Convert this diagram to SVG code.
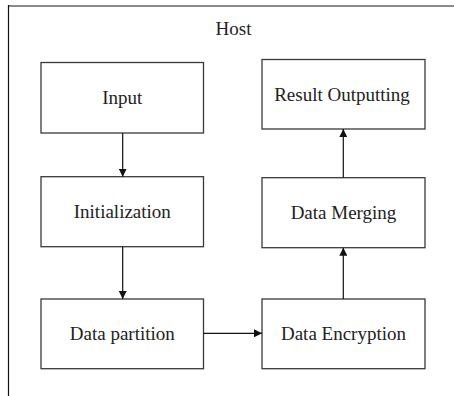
<svg xmlns="http://www.w3.org/2000/svg" width="454" height="396" viewBox="0 0 454 396">
  <defs>
    <marker id="arrow" markerWidth="8" markerHeight="8" refX="8" refY="4" orient="auto" markerUnits="userSpaceOnUse">
      <path d="M0,0 L8,4 L0,8 Z" fill="#111"/>
    </marker>
    <style>
      .box { fill: #fff; stroke: #3a3a3a; stroke-width: 1.3; }
      .label { font-family: "Liberation Serif", "Times New Roman", serif; font-size: 19px; fill: #222; text-anchor: middle; }
      .conn { stroke: #111; stroke-width: 1.2; fill: none; marker-end: url(#arrow); }
    </style>
  </defs>
  <rect width="454" height="396" fill="#fff"/>

  <!-- host frame: top and left edges -->
  <g id="host">
    <line x1="8" y1="6" x2="454" y2="6" stroke="#8a8a8a" stroke-width="2"/>
    <line x1="8.5" y1="5" x2="8.5" y2="396" stroke="#111" stroke-width="1.2"/>
    <text class="label" x="233.5" y="34.5">Host</text>
  </g>

  <g id="input">
    <rect class="box" x="41" y="62.5" width="162.5" height="70.5"/>
    <text class="label" x="122.3" y="104">Input</text>
  </g>
  <g id="initialization">
    <rect class="box" x="41" y="176.7" width="162.5" height="70"/>
    <text class="label" x="122.3" y="218">Initialization</text>
  </g>
  <g id="data-partition">
    <rect class="box" x="41" y="299" width="162.5" height="69.7"/>
    <text class="label" x="122.3" y="340">Data partition</text>
  </g>
  <g id="data-encryption">
    <rect class="box" x="262" y="299" width="163" height="69.7"/>
    <text class="label" x="343.5" y="340">Data Encryption</text>
  </g>
  <g id="data-merging">
    <rect class="box" x="262" y="177.7" width="163" height="70"/>
    <text class="label" x="343.5" y="219">Data Merging</text>
  </g>
  <g id="result-outputting">
    <rect class="box" x="262" y="59.5" width="163" height="69.5"/>
    <text class="label" x="342" y="101">Result Outputting</text>
  </g>

  <g id="connectors">
    <line class="conn" x1="122.7" y1="133" x2="122.7" y2="176.7"/>
    <line class="conn" x1="122.7" y1="246.7" x2="122.7" y2="299"/>
    <line class="conn" x1="203.5" y1="333.3" x2="262" y2="333.3"/>
    <line class="conn" x1="343.3" y1="299" x2="343.3" y2="247.7"/>
    <line class="conn" x1="343.3" y1="177.7" x2="343.3" y2="129"/>
  </g>
</svg>
